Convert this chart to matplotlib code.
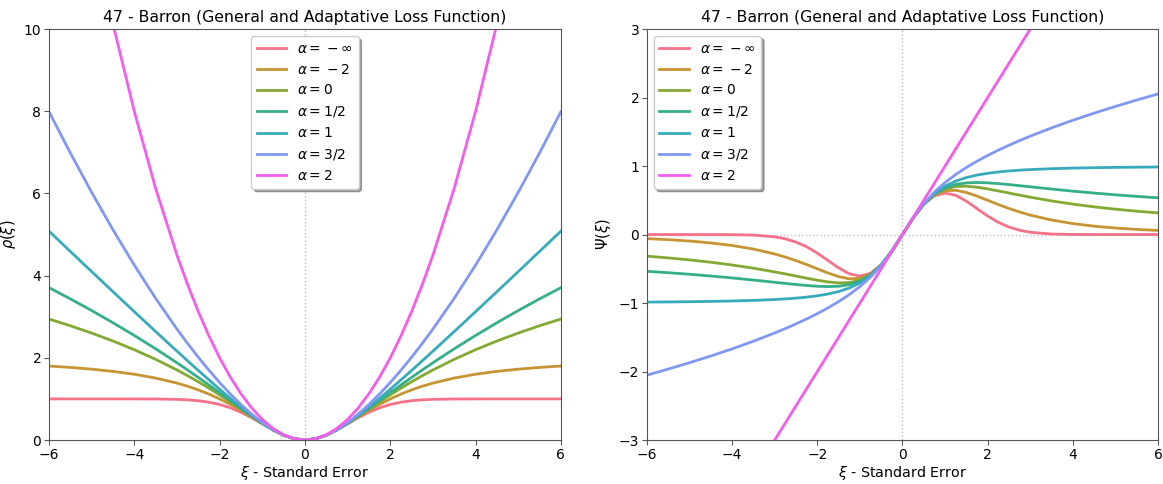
import numpy as np
import matplotlib
matplotlib.use("Agg")
import matplotlib.pyplot as plt
import seaborn as sns

# sample points (xi >= 0); curves are mirrored (rho even, psi odd)
xi_pos = [0, 0.25, 0.5, 0.75, 1.0, 1.25, 1.5, 1.75, 2.0, 2.25, 2.5, 2.75, 3.0,
          3.5, 4.0, 4.5, 5.0, 5.5, 6.0]

labels = [r'$\alpha =\:-\:\infty$', r'$\alpha =\:-\:2$', r'$\alpha = 0$',
          r'$\alpha = 1/2$', r'$\alpha = 1$', r'$\alpha = 3/2$', r'$\alpha = 2$']

# rho(xi) - loss
rho_minf = [0, .0308, .1175, .2452, .3935, .5422, .6753, .7837, .8647, .9204, .9561,
            .9772, .9889, .9978, .9997, 1.0, 1.0, 1.0, 1.0]
rho_m2 = [0, .0308, .1176, .2466, .4, .5618, .72, .8673, 1.0, 1.1172, 1.2195,
          1.3081, 1.3846, 1.5077, 1.6, 1.6701, 1.7241, 1.7664, 1.8]
rho_0 = [0, .0308, .1178, .2478, .4055, .5773, .7538, .9287, 1.0986, 1.2617, 1.4171,
         1.5647, 1.7047, 1.9636, 2.1972, 2.4092, 2.6027, 2.7804, 2.9444]
rho_half = [0, .0308, .1187, .2486, .4087, .5861, .7723, .9619, 1.1514, 1.3388, 1.5230,
            1.7034, 1.8797, 2.2200, 2.5445, 2.8541, 3.1505, 3.4348, 3.7082]
rho_1 = [0, .0308, .1180, .25, .4142, .6008, .8028, 1.0156, 1.2361, 1.4622, 1.6926,
         1.9262, 2.1623, 2.6401, 3.1231, 3.6098, 4.0990, 4.5902, 5.0828]
rho_3half = [0, .0308, .1185, .2533, .4265, .6315, .8638, 1.1203, 1.3987, 1.6972, 2.0143,
             2.3489, 2.7002, 3.4492, 4.2562, 5.1169, 6.0281, 6.9871, 7.9914]
rho_2 = [0, .0313, .125, .2813, .5, .7813, 1.125, 1.5313, 2.0, 2.5313, 3.125,
         3.7813, 4.5, 6.125, 8.0, 10.125, 12.5, 15.125, 18.0]

# psi(xi) - influence
psi_minf = [0, .2423, .4412, .5661, .6065, .5723, .4870, .3785, .2707, .1790, .1098,
            .0627, .0333, .0077, .0013, .0002, 0, 0, 0]
psi_m2 = [0, .2424, .4429, .5765, .64, .6464, .6144, .5614, .5, .4383, .3807,
          .3291, .2840, .2121, .16, .1224, .0951, .0750, .06]
psi_0 = [0, .2424, .4444, .5854, .6667, .7018, .7059, .6914, .6667, .6372, .6061,
         .5752, .5455, .4912, .4444, .4045, .3704, .3411, .3158]
psi_half = [0, .2425, .4454, .5906, .6817, .7319, .7544, .7598, .7548, .7438, .7295,
            .7136, .6971, .6644, .6337, .6055, .5802, .5574, .5367]
psi_1 = [0, .2425, .4472, .6, .7071, .7809, .8321, .8682, .8944, .9138, .9285,
         .9398, .9487, .9615, .9701, .9762, .9806, .9839, .9864]
psi_3half = [0, .2427, .4518, .6212, .7598, .8771, .9795, 1.0711, 1.1547, 1.2320, 1.3042,
             1.3723, 1.4369, 1.5575, 1.6689, 1.7730, 1.8710, 1.9640, 2.0527]
psi_2 = [0, .25, .5, .75, 1.0, 1.25, 1.5, 1.75, 2.0, 2.25, 2.5, 2.75, 3.0,
         3.5, 4.0, 4.5, 5.0, 5.5, 6.0]

rho_curves = [rho_minf, rho_m2, rho_0, rho_half, rho_1, rho_3half, rho_2]
psi_curves = [psi_minf, psi_m2, psi_0, psi_half, psi_1, psi_3half, psi_2]


def mirror(xs, ys, odd=False):
    xs = np.asarray(xs)
    ys = np.asarray(ys)
    sign = -1 if odd else 1
    x_full = np.concatenate([-xs[::-1], xs[1:]])
    y_full = np.concatenate([sign * ys[::-1], ys[1:]])
    return x_full, y_full


colors = sns.color_palette("husl", 7)
title = '47 - Barron (General and Adaptative Loss Function)'

fig = plt.figure(figsize=(11.63, 4.84), dpi=100)
ax1 = fig.add_axes([0.0421, 0.0909, 0.4402, 0.849])
ax2 = fig.add_axes([0.5563, 0.0909, 0.4394, 0.849])

for ys, c, lab in zip(rho_curves, colors, labels):
    x, y = mirror(xi_pos, ys)
    ax1.plot(x, y, color=c, lw=2, label=lab)
for ys, c, lab in zip(psi_curves, colors, labels):
    x, y = mirror(xi_pos, ys, odd=True)
    ax2.plot(x, y, color=c, lw=2, label=lab)

ax1.axvline(0, color='#bbbbbb', ls=':', lw=1, zorder=0)
ax2.axvline(0, color='#bbbbbb', ls=':', lw=1, zorder=0)
ax2.axhline(0, color='#bbbbbb', ls=':', lw=1, zorder=0)

ax1.set_xlim(-6, 6)
ax1.set_ylim(0, 10)
ax2.set_xlim(-6, 6)
ax2.set_ylim(-3, 3)

ax1.set_ylabel(r'$\rho(\xi)$', fontsize=10.5, labelpad=4)
ax2.set_ylabel(r'$\Psi(\xi)$', fontsize=10.5, labelpad=4)
for ax in (ax1, ax2):
    ax.set_title(title, fontsize=11.3, pad=5)
    ax.set_xlabel(r'$\xi$ - Standard Error', fontsize=10.3, labelpad=2)
    ax.tick_params(labelsize=10, color='#555555', length=3.5, pad=2)
    for s in ax.spines.values():
        s.set_color('#555555')

ax1.legend(loc='upper center', fontsize=10, shadow=True, handlelength=2.1,
           borderaxespad=0.5)
ax2.legend(loc='upper left', fontsize=10, shadow=True, handlelength=2.1,
           borderaxespad=0.5)

fig.savefig('out.png', dpi=100)
